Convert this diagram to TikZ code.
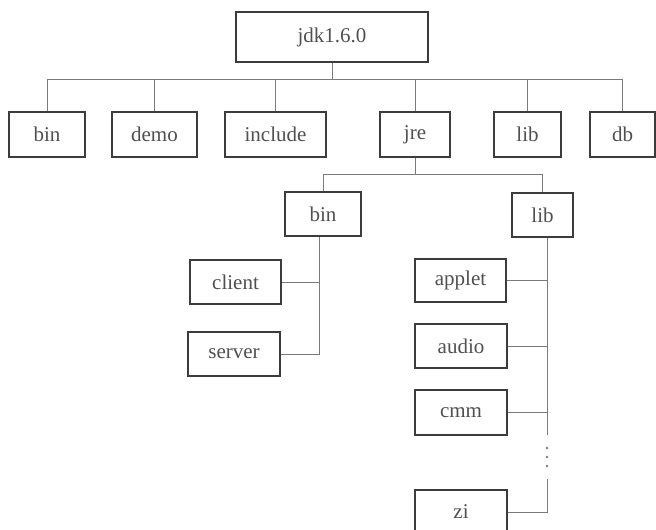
\documentclass[tikz,border=0pt]{standalone}
\usepackage{fontspec}
\setmainfont{Liberation Serif}
\definecolor{boxline}{HTML}{3C3C3C}
\definecolor{wire}{HTML}{7A7A7A}
\definecolor{label}{HTML}{505050}
\begin{document}
\begin{tikzpicture}[x=1pt,y=-1pt,
  dirbox/.style={draw=boxline,line width=1.5pt,rectangle,inner sep=0pt,
    text=label,font=\fontsize{21}{21}\selectfont,fill=white},
  wireline/.style={draw=wire,line width=0.8pt},
  elide/.style={fill=wire}]
\clip (0,0) rectangle (656,530);
\fill[white] (0,0) rectangle (656,530);

% root and first level
\node[dirbox,minimum width=192pt,minimum height=50pt] (jdk) at (332,37) {jdk1.6.0};
\node[dirbox,minimum width=76pt,minimum height=45pt]  (bin)  at (47,134.5)  {bin};
\node[dirbox,minimum width=85pt,minimum height=45pt]  (demo) at (154.5,134.5) {demo};
\node[dirbox,minimum width=101pt,minimum height=45pt] (inc)  at (275.5,134.5) {include};
\node[dirbox,minimum width=70pt,minimum height=45pt]  (jre)  at (415,134.5) {jre};
\node[dirbox,minimum width=67pt,minimum height=45pt]  (lib)  at (527.5,134.5) {lib};
\node[dirbox,minimum width=65pt,minimum height=45pt]  (db)   at (622.5,134.5) {db};

% jre subfolders
\node[dirbox,minimum width=76pt,minimum height=44pt] (jbin) at (323,214) {bin};
\node[dirbox,minimum width=61pt,minimum height=44pt] (jlib) at (542.5,215) {lib};

% bin subfolders
\node[dirbox,minimum width=91pt,minimum height=44pt] (client) at (235.5,282) {client};
\node[dirbox,minimum width=92pt,minimum height=44pt] (server) at (234,354) {server};

% lib subfolders
\node[dirbox,minimum width=91pt,minimum height=43pt] (applet) at (460.5,280.5) {applet};
\node[dirbox,minimum width=92pt,minimum height=44pt] (audio)  at (461,346) {audio};
\node[dirbox,minimum width=92pt,minimum height=45pt] (cmm)    at (461,412.5) {cmm};
\node[dirbox,minimum width=92pt,minimum height=44pt] (zi)     at (461,512) {zi};

% bus levels
\coordinate (busA) at (0,79);
\coordinate (busB) at (0,174);

% root bus
\draw[wireline] (jdk.south) -- (jdk.south |- busA);
\draw[wireline] (bin.north |- busA) -- (db.north |- busA);
\foreach \n in {bin,demo,inc,jre,lib,db}
  \draw[wireline] (\n.north) -- (\n.north |- busA);

% jre bus
\draw[wireline] (jre.south) -- (jre.south |- busB);
\draw[wireline] (jbin.north |- busB) -- (jlib.north |- busB);
\draw[wireline] (jbin.north) -- (jbin.north |- busB);
\draw[wireline] (jlib.north) -- (jlib.north |- busB);

% bin spine
\coordinate (binspine) at (319,0);
\draw[wireline] (jbin.south -| binspine) |- (server.east);
\draw[wireline] (client.east) -- (client.east -| binspine);

% lib spine with elided entries
\coordinate (libspine) at (547,0);
\coordinate (gapTop) at (547,435);
\coordinate (gapBot) at (547,479);
\draw[wireline] (jlib.south -| libspine) -- (gapTop);
\draw[wireline] (gapBot) |- (zi.east);
\foreach \n in {applet,audio,cmm}
  \draw[wireline] (\n.east) -- (\n.east -| libspine);
% vertical ellipsis between cmm and zi
\foreach \y in {448,457,466}
  \fill[elide] (547,\y) circle (1.3pt);
\end{tikzpicture}
\end{document}
